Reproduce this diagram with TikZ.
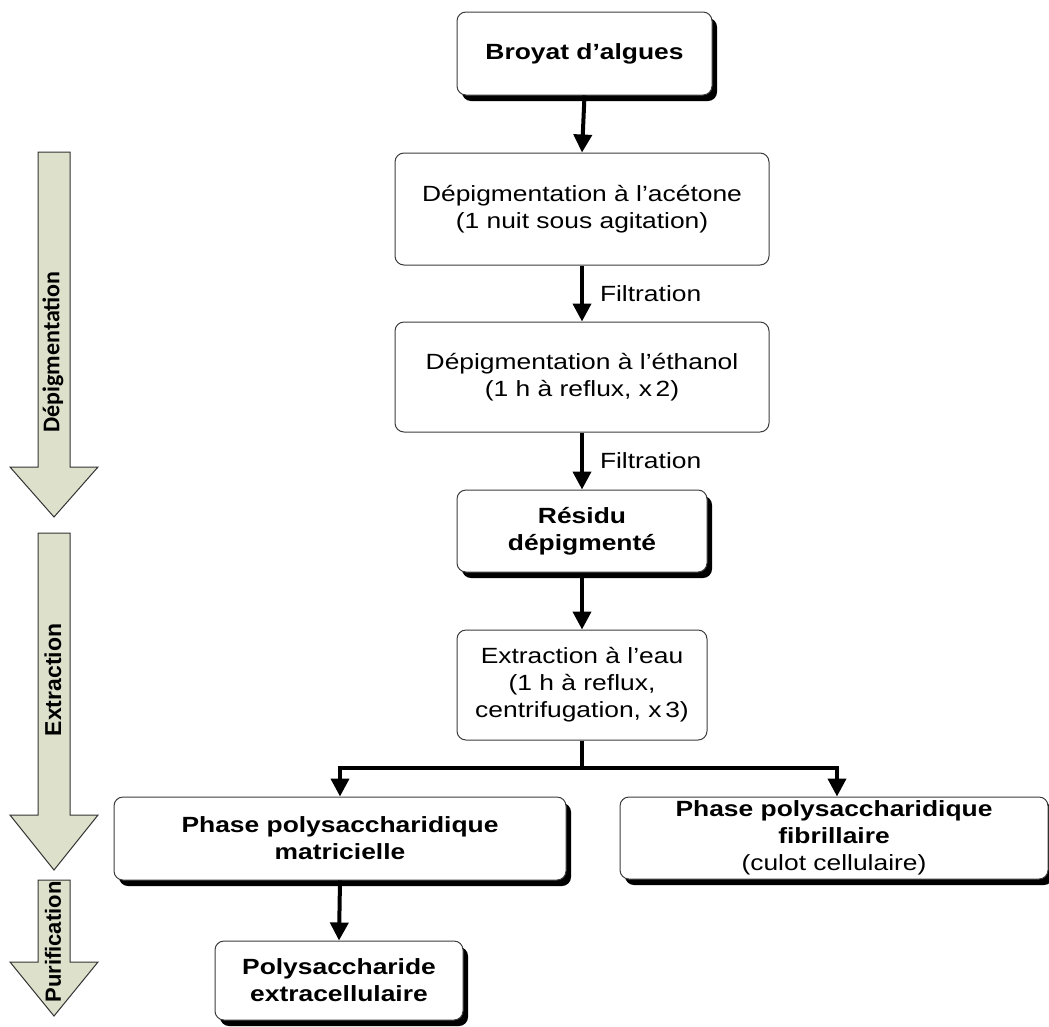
\documentclass[tikz,border=0pt]{standalone}
\usepackage{fontspec}
\setmainfont{Liberation Sans}[FakeStretch=1.2]
\newfontfamily\sidefont{Liberation Sans}
\newfontfamily\calfont{Carlito}
\usetikzlibrary{arrows.meta,shadows}
\definecolor{sidefill}{RGB}{221,224,202}
\definecolor{boxline}{RGB}{60,60,60}
\tikzset{
  box/.style={draw=boxline, line width=1pt, fill=white, rounded corners=9pt,
    align=center, inner sep=2pt, font=\fontsize{22}{27}\selectfont},
  boldbox/.style={box, font=\fontsize{22}{27}\selectfont\bfseries,
    general shadow={fill=black, shadow xshift=5pt, shadow yshift=-6pt}},
  conn/.style={line width=4pt, -{Triangle[length=18pt,width=18pt]}},
  plainline/.style={line width=4pt},
  sidearrow/.style={draw=black!80, line width=1pt, fill=sidefill},
  lbl/.style={font=\fontsize{22}{27}\selectfont, inner sep=0pt}
}
\begin{document}
\begin{tikzpicture}[x=1pt,y=-1pt]
\useasboundingbox (0,0) rectangle (1049,1026);
% side arrows
\draw[sidearrow] (38,152) -- (70,152) -- (70,467) -- (98,467) -- (54,517) -- (10,467) -- (38,467) -- cycle;
\draw[sidearrow] (38,533) -- (70,533) -- (70,815) -- (98,815) -- (54,870) -- (10,815) -- (38,815) -- cycle;
\draw[sidearrow] (38,880) -- (70,880) -- (70,962) -- (98,962) -- (54,1016) -- (10,962) -- (38,962) -- cycle;
\node[rotate=90, font=\calfont\bfseries\fontsize{24}{27}\selectfont] (tdep) at (53,352) {Dépigmentation};
\node[rotate=90, font=\sidefont\bfseries\fontsize{23}{27}\selectfont] (text) at (53,680) {Extraction};
\node[rotate=90, font=\sidefont\bfseries\fontsize{22}{27}\selectfont] (tpur) at (53,942) {Purification};
% boxes
\node[boldbox, minimum width=255pt, minimum height=83pt] (broyat) at (584.5,53.5) {Broyat d’algues};
\node[box, minimum width=374pt, minimum height=112pt] (acetone) at (582,209) {Dépigmentation à l’acétone\\(1 nuit sous agitation)};
\node[box, minimum width=374pt, minimum height=110pt] (ethanol) at (582,377) {Dépigmentation à l’éthanol\\(1 h à reflux, x\,2)};
\node[boldbox, minimum width=250pt, minimum height=82pt] (residu) at (582,531) {Résidu\\dépigmenté};
\node[box, minimum width=250pt, minimum height=110pt] (extraction) at (582,685) {Extraction à l’eau\\(1 h à reflux,\\centrifugation, x\,3)};
\node[boldbox, minimum width=452pt, minimum height=83pt] (matri) at (340,838.5) {Phase polysaccharidique\\matricielle};
\node[boldbox, minimum width=428pt, minimum height=82pt] (fibri) at (834,838) {Phase polysaccharidique\\fibrillaire\\{\mdseries (culot cellulaire)}};
\node[boldbox, minimum width=248pt, minimum height=79pt] (poly) at (339,980.5) {Polysaccharide\\extracellulaire};
% connectors
\draw[conn] (broyat.south) -- (acetone.north);
\draw[conn] (acetone.south) -- node[lbl, right=16pt] (f1) {Filtration} (ethanol.north);
\draw[conn] (ethanol.south) -- node[lbl, right=16pt] (f2) {Filtration} (residu.north);
\draw[conn] (residu.south) -- (extraction.north);
\coordinate (br) at (582,768);
\draw[plainline] (extraction.south) -- (br);
\draw[conn] (br) -| (matri.north);
\draw[conn] (br) -| ([xshift=3pt]fibri.north);
\draw[conn] (matri.south) -- (poly.north);
\end{tikzpicture}
\end{document}
